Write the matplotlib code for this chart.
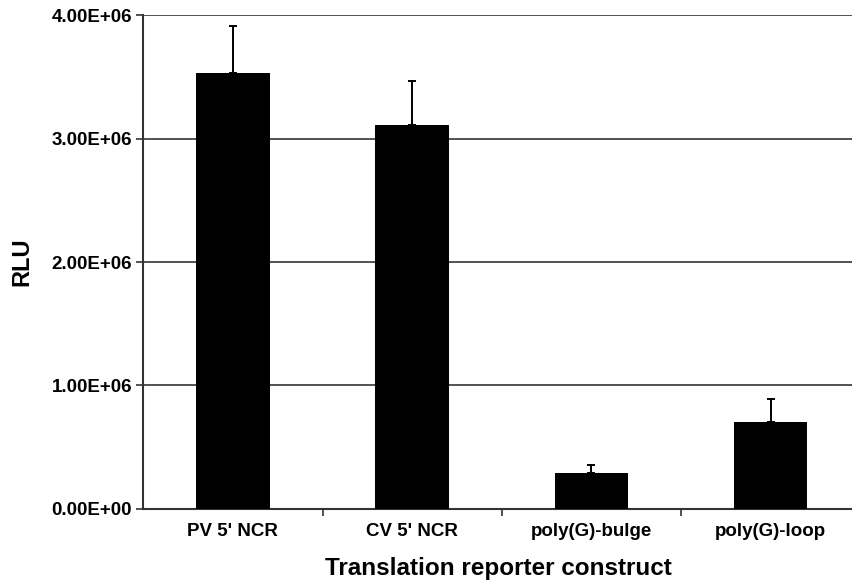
import numpy as np
import matplotlib
matplotlib.use("Agg")
import matplotlib.pyplot as plt
from matplotlib.ticker import FixedLocator

constructs = ["PV 5' NCR", "CV 5' NCR", "poly(G)-bulge", "poly(G)-loop"]
rlu = [3.53e6, 3.11e6, 0.288e6, 0.707e6]
rlu_err = [0.38e6, 0.36e6, 0.064e6, 0.186e6]
yticks = [0, 1e6, 2e6, 3e6, 4e6]
ylabels = ["0.00E+00", "1.00E+06", "2.00E+06", "3.00E+06", "4.00E+06"]

plt.rcParams["font.family"] = ["Liberation Sans", "DejaVu Sans"]

fig = plt.figure(figsize=(8.53, 5.81), dpi=100)
ax = fig.add_axes([0.168, 0.124, 0.832, 0.850])

x = np.arange(len(constructs))
ax.bar(x, rlu, width=0.41, color="black", zorder=3)
ax.errorbar(x, rlu, yerr=[np.zeros(len(rlu)), rlu_err], fmt="none",
            ecolor="black", elinewidth=1.4, capsize=3, capthick=1.4, zorder=4)

ax.set_ylim(0, 4e6)
ax.set_xlim(-0.5, 3.46)
ax.set_yticks(yticks)
ax.set_yticklabels(ylabels, fontsize=13.5, fontweight="bold")
ax.yaxis.grid(True, color="#333333", lw=1.2, zorder=0)
ax.set_axisbelow(True)

ax.set_xticks(x)
ax.set_xticklabels(constructs, fontsize=13.5, fontweight="bold")
ax.tick_params(axis="x", length=0, pad=10)
ax.xaxis.set_minor_locator(FixedLocator([0.5, 1.5, 2.5]))
ax.tick_params(axis="x", which="minor", length=5, width=1.2, color="#333333")
ax.tick_params(axis="y", length=5, width=1.2, color="#333333", pad=3)

for s in ["top", "right"]:
    ax.spines[s].set_visible(False)
for s in ["left", "bottom"]:
    ax.spines[s].set_linewidth(1.5)
    ax.spines[s].set_color("#333333")

ax.set_ylabel("RLU", fontsize=17, fontweight="bold")
ax.yaxis.set_label_coords(-0.155, 0.5)
ax.set_xlabel("Translation reporter construct", fontsize=17.5, fontweight="bold", labelpad=12)

fig.savefig("out.png", dpi=100)
